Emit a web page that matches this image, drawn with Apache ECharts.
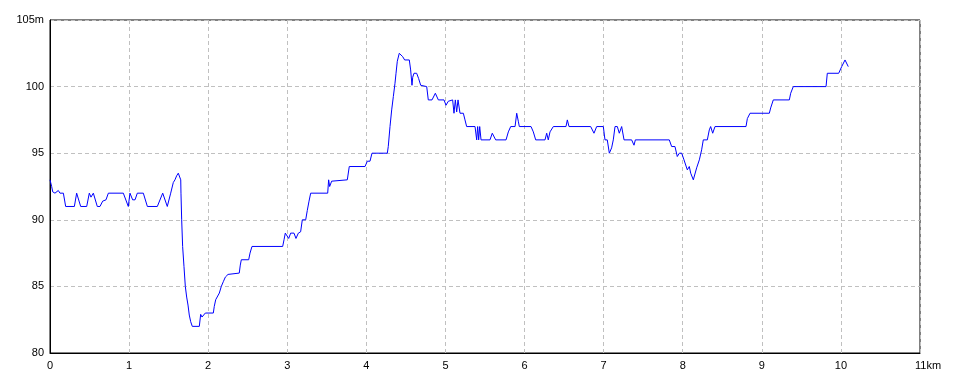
<!DOCTYPE html>
<html>
<head>
<meta charset="utf-8">
<script src="https://cdn.jsdelivr.net/npm/echarts@6/dist/echarts.min.js"></script>
<style>html,body{margin:0;padding:0;background:#fff}#c{width:960px;height:384px}</style>
</head>
<body>
<div id="c"></div>
<script>
const distanceKm = [
0,0.021,0.034,0.063,0.105,0.126,0.169,0.198,0.308,0.337,0.388,0.464,0.497,0.518,0.548,0.598,0.632,0.666,0.708,0.738,
0.927,0.990,1.011,1.045,1.075,1.104,1.180,1.231,1.357,1.425,1.483,1.526,1.559,1.580,1.601,1.622,1.653,1.656,1.665,1.677,
1.694,1.711,1.728,1.745,1.761,1.779,1.799,1.888,1.905,1.922,1.938,1.964,2.065,2.077,2.095,2.115,2.141,2.166,2.191,2.217,
2.251,2.276,2.393,2.406,2.419,2.512,2.529,2.554,2.942,2.959,2.975,3.000,3.018,3.043,3.085,3.110,3.140,3.169,3.190,3.233,
3.253,3.275,3.296,3.511,3.523,3.536,3.561,3.582,3.759,3.784,3.983,4.012,4.046,4.071,4.265,4.277,4.299,4.320,4.341,4.362,
4.375,4.391,4.416,4.438,4.459,4.484,4.543,4.560,4.577,4.586,4.602,4.636,4.661,4.687,4.763,4.783,4.830,4.872,4.910,4.982,
5.007,5.036,5.058,5.091,5.108,5.125,5.142,5.159,5.184,5.226,5.247,5.268,5.374,5.395,5.407,5.420,5.433,5.450,5.563,5.592,
5.635,5.766,5.795,5.825,5.880,5.901,5.921,5.934,6.082,6.111,6.141,6.259,6.280,6.300,6.322,6.364,6.524,6.541,6.562,6.836,
6.878,6.912,6.996,7.017,7.046,7.072,7.101,7.122,7.144,7.173,7.198,7.228,7.258,7.354,7.384,7.401,7.830,7.860,7.881,7.902,
7.931,7.957,7.987,8.016,8.058,8.083,8.101,8.134,8.176,8.210,8.239,8.260,8.311,8.336,8.353,8.379,8.408,8.800,8.817,8.851,
9.095,9.112,9.145,9.348,9.365,9.398,9.812,9.828,9.972,10.010,10.052,10.093
];
const elevationM = [
93.0,92.5,92.1,92,92.2,92,92,91,91,92,91,91,92,91.7,92,91,91,91.4,91.5,92,
92,91,92,91.5,91.5,92,92,91,91,92,91,92,92.8,93,93.3,93.5,93,92,90,88,
86.5,85,84.2,83.6,82.85,82.35,82,82,82.9,82.7,82.6,83,83,83.5,84,84,84.5,85,85.35,85.7,
85.9,86,86,86.6,87,87,87.5,88,88,88.5,89,89,88.6,89,89,88.6,89,89.1,90,90,
90.7,91.4,92,92,93,92.5,92.9,93,93,94,94,94.4,94.4,95,95,95.5,97,98.25,99.25,100.25,
101,101.9,102.5,102.5,102.25,102,102,101.25,100.1,100.7,101,101,100.6,100.1,100,99,99,99.5,99,99,
98.6,98.9,99,99,98,99,98.1,99,98,98,97.5,97,97,96,97,96,97,96,96,96.5,
96,96,96.6,97,97,98,97.4,97,97,96.6,96,96,96.5,96,96.6,97,97,97.5,97,97,
96.5,97,97,96,96,95,95.4,96,97,97,96.5,97,96,96,95.6,96,96,95.5,95.4,95.5,
94.75,95,95,94.5,93.75,94,93.5,93,93.9,94.5,95.25,96,96,96.75,97,96.5,97,97,97.6,98,
98,98.4,99,99,99.5,100,100,101,101,101.5,102,101.5
];
const xTickLabels = ['0','1','2','3','4','5','6','7','8','9','10','11km'];
const yTickLabels = ['80','85','90','95','100','105m'];

const chart = echarts.init(document.getElementById('c'));
const font = 'Liberation Sans, Arial, sans-serif';
chart.setOption({
  animation: false,
  backgroundColor: '#ffffff',
  grid: {left: 50, top: 20, right: 40, bottom: 31, show: true, borderColor: '#000', borderWidth: 1, backgroundColor: 'transparent'},
  xAxis: {
    type: 'value', min: 0, max: 11, interval: 1,
    axisLine: {show: true, lineStyle: {color: '#000', width: 1}},
    axisTick: {show: false},
    splitLine: {show: true, lineStyle: {color: '#c0c0c0', type: [4, 3], width: 1}},
    axisLabel: {
      color: '#000', fontSize: 11, fontFamily: font, margin: 7,
      formatter: v => {
        const l = xTickLabels[Math.round(v)];
        return Math.round(v) === 11 ? '{e|' + l + '}' : l;
      },
      rich: {e: {color: '#000', fontSize: 11, fontFamily: font, padding: [0, 0, 0, 16]}}
    }
  },
  yAxis: {
    type: 'value', min: 80, max: 105, interval: 5,
    axisLine: {show: true, lineStyle: {color: '#000', width: 1}},
    axisTick: {show: false},
    splitLine: {show: true, lineStyle: {color: '#c0c0c0', type: [4, 3], width: 1}},
    axisLabel: {
      color: '#000', fontSize: 11, fontFamily: font, margin: 6,
      formatter: v => yTickLabels[Math.round((v - 80) / 5)]
    }
  },
  series: [{
    type: 'line',
    data: distanceKm.map((d, i) => [d, elevationM[i]]),
    showSymbol: false,
    symbol: 'none',
    lineStyle: {color: '#0000ff', width: 1},
    itemStyle: {color: '#0000ff'}
  }]
});
</script>
</body>
</html>
